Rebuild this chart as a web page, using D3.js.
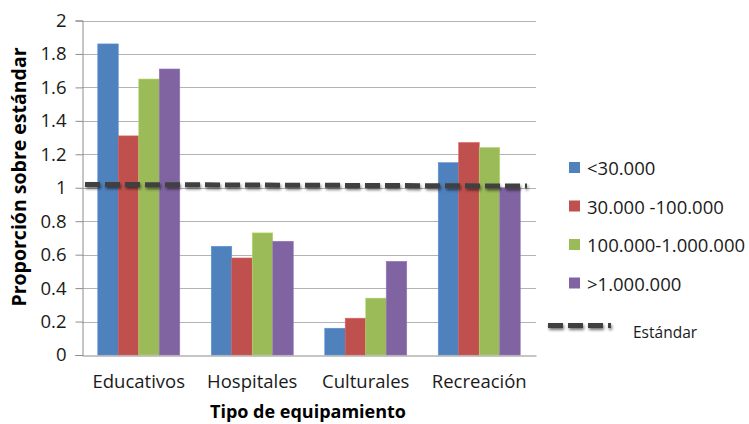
<!DOCTYPE html>
<html>
<head>
<meta charset="utf-8">
<script src="https://cdn.jsdelivr.net/npm/d3@7"></script>
<style>
  html, body { margin: 0; padding: 0; background: #fff; }
  svg { display: block; font-family: "Open Sans", sans-serif; }
</style>
</head>
<body>
<svg id="chart" width="749" height="424"></svg>
<script>
// Equipment categories and population-size series
const categories = ["Educativos", "Hospitales", "Culturales", "Recreación"];
const seriesNames = ["<30.000", "30.000 -100.000", "100.000-1.000.000", ">1.000.000"];
const seriesColors = ["#4F81BD", "#C0504D", "#9BBB59", "#8064A2"];
const valsSmall   = [1.86, 0.65, 0.16, 1.15];
const valsMedium  = [1.31, 0.58, 0.22, 1.27];
const valsLarge   = [1.65, 0.73, 0.34, 1.24];
const valsMetro   = [1.71, 0.68, 0.56, 1.00];
const seriesValues = [valsSmall, valsMedium, valsLarge, valsMetro];
// Reference standard (start / end of the dashed line)
const standardValues = [1.02, 1.01];
const standardLabel = "Estándar";
const yTicks = [0, 0.2, 0.4, 0.6, 0.8, 1, 1.2, 1.4, 1.6, 1.8, 2];
const yTitle = "Proporción sobre estándar";
const xTitle = "Tipo de equipamiento";

const W = 749, H = 424;
const svg = d3.select("#chart");
const plot = { left: 82, right: 536, top: 20.5, bottom: 355 };

const x0 = d3.scaleBand().domain(categories)
  .range([plot.left, plot.right])
  .paddingInner(0.2775).paddingOuter(0.139);
const x1 = d3.scaleBand().domain(d3.range(seriesNames.length))
  .range([0, x0.bandwidth()]);
const y = d3.scaleLinear().domain([0, 2]).range([plot.bottom, plot.top]);

// Soft drop shadow for the dashed standard line
const defs = svg.append("defs");
const shadow = defs.append("filter").attr("id", "lineShadow")
  .attr("filterUnits", "userSpaceOnUse")
  .attr("x", 0).attr("y", 0).attr("width", W).attr("height", H);
shadow.append("feGaussianBlur").attr("in", "SourceAlpha").attr("stdDeviation", 1.6).attr("result", "b");
shadow.append("feOffset").attr("in", "b").attr("dx", 1).attr("dy", 2).attr("result", "o");
shadow.append("feComponentTransfer").attr("in", "o").attr("result", "s")
  .append("feFuncA").attr("type", "linear").attr("slope", 0.55);
const merge = shadow.append("feMerge");
merge.append("feMergeNode").attr("in", "s");
merge.append("feMergeNode").attr("in", "SourceGraphic");

// Gridlines
svg.append("g").selectAll("line").data(yTicks.filter(d => d > 0)).join("line")
  .attr("x1", plot.left).attr("x2", plot.right)
  .attr("y1", d => Math.round(y(d)) + 0.5).attr("y2", d => Math.round(y(d)) + 0.5)
  .attr("stroke", "#b3b3b3").attr("stroke-width", 1);

// Y axis
const yAxis = d3.axisLeft(y).tickValues(yTicks).tickSize(7).tickPadding(9)
  .tickFormat(d => String(d));
const gy = svg.append("g").attr("transform", `translate(${plot.left + 0.5},0)`).call(yAxis);
gy.select(".domain").attr("stroke", "#8c8c8c");
gy.selectAll(".tick line").attr("stroke", "#8c8c8c");
gy.selectAll(".tick text").attr("font-size", 18.5).attr("fill", "#1a1a1a")
  .attr("font-family", "'Open Sans', sans-serif");

// Bars
const groups = svg.append("g").selectAll("g").data(categories).join("g")
  .attr("transform", d => `translate(${x0(d)},0)`);
groups.selectAll("rect")
  .data((c, ci) => seriesValues.map((vals, si) => ({ si, v: vals[ci] })))
  .join("rect")
  .attr("x", d => x1(d.si))
  .attr("width", x1.bandwidth())
  .attr("y", d => y(d.v))
  .attr("height", d => y(0) - y(d.v))
  .attr("fill", d => seriesColors[d.si])
  .attr("stroke", d => d3.color(seriesColors[d.si]).brighter(0.4))
  .attr("stroke-width", 0.6);

// X axis
const xAxis = d3.axisBottom(x0).tickSize(0).tickPadding(19);
const gx = svg.append("g").attr("transform", `translate(0,${plot.bottom + 0.5})`).call(xAxis);
gx.select(".domain").attr("stroke", "#8c8c8c");
gx.selectAll(".tick text").attr("font-size", 18.5).attr("fill", "#1a1a1a")
  .attr("font-family", "'Open Sans', sans-serif");

// Standard dashed line
const xs = d3.scaleLinear().domain([0, 1]).range([plot.left + 3, plot.right - 9]);
svg.append("path")
  .datum(standardValues)
  .attr("d", d3.line().x((d, i) => xs(i)).y(d => y(d)))
  .attr("fill", "none").attr("stroke", "#404040").attr("stroke-width", 5)
  .attr("stroke-dasharray", "15,5")
  .attr("filter", "url(#lineShadow)");

// Axis titles
svg.append("text")
  .attr("transform", `translate(18,177) rotate(-90)`)
  .attr("text-anchor", "middle").attr("dominant-baseline", "central")
  .attr("font-size", 19.5).attr("font-weight", "bold").attr("fill", "#000")
  .text(yTitle);
svg.append("text")
  .attr("x", 308).attr("y", 411)
  .attr("text-anchor", "middle").attr("dominant-baseline", "central")
  .attr("font-size", 18).attr("font-weight", "bold").attr("fill", "#000")
  .text(xTitle);

// Legend
const legend = svg.append("g");
const rowY = d3.scaleLinear().domain([0, 1]).range([167.5, 206]);
seriesNames.forEach((name, i) => {
  legend.append("rect")
    .attr("x", 569).attr("y", rowY(i) - 5.5).attr("width", 11).attr("height", 11)
    .attr("fill", seriesColors[i]);
  legend.append("text")
    .attr("x", 587).attr("y", rowY(i)).attr("dominant-baseline", "central")
    .attr("font-size", 18.5).attr("fill", "#1a1a1a").text(name);
});
legend.append("line")
  .attr("x1", 548).attr("x2", 611).attr("y1", 325.5).attr("y2", 325.5)
  .attr("stroke", "#404040").attr("stroke-width", 5)
  .attr("stroke-dasharray", "15,5").attr("filter", "url(#lineShadow)");
legend.append("text")
  .attr("x", 633).attr("y", 332).attr("dominant-baseline", "central")
  .attr("font-size", 15.5).attr("fill", "#1a1a1a").text(standardLabel);
</script>
</body>
</html>
